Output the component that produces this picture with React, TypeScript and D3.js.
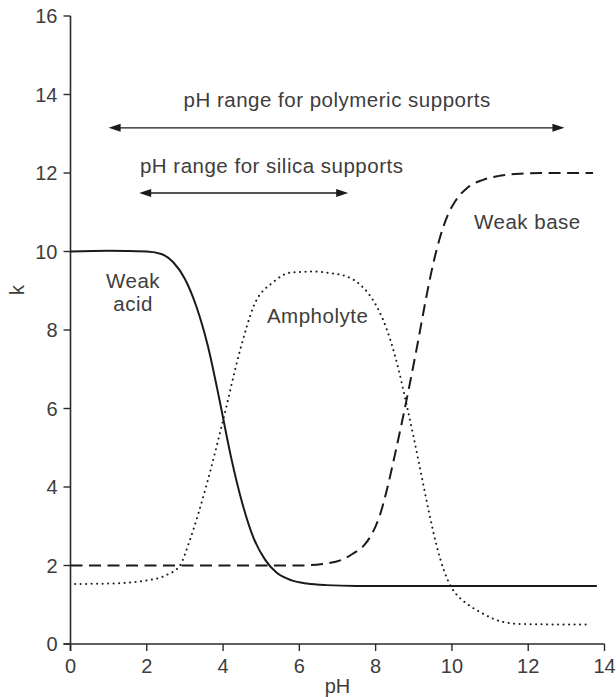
import React from "react";
import * as d3 from "d3";

const W = 616;
const H = 698;

const xTicks = [0, 2, 4, 6, 8, 10, 12, 14];
const yTicks = [0, 2, 4, 6, 8, 10, 12, 14, 16];

// Weak acid (solid)
const acidPH = [0, 1, 2, 2.4, 2.7, 3.0, 3.3, 3.6, 3.9, 4.2, 4.5, 4.8, 5.1, 5.4, 5.8, 6.2, 6.7, 7.5, 9, 11, 13.8];
const acidK = [10, 10.02, 10, 9.93, 9.72, 9.3, 8.6, 7.6, 6.25, 4.8, 3.6, 2.7, 2.15, 1.82, 1.62, 1.54, 1.5, 1.48, 1.48, 1.48, 1.48];

// Weak base (dashed)
const basePH = [0, 2, 4, 6, 6.6, 7.1, 7.4, 7.7, 7.9, 8.1, 8.3, 8.5, 8.7, 8.9, 9.1, 9.3, 9.5, 9.7, 9.9, 10.1, 10.4, 10.8, 11.2, 11.8, 12.5, 13.7];
const baseK = [2, 2, 2, 2.0, 2.04, 2.14, 2.3, 2.52, 2.8, 3.25, 3.95, 4.8, 5.7, 6.65, 7.65, 8.7, 9.65, 10.4, 10.95, 11.3, 11.62, 11.82, 11.92, 11.98, 12.0, 12.0];

// Ampholyte (dotted)
const ampPH = [0.12, 1, 2, 2.5, 2.87, 3.13, 3.58, 4.0, 4.45, 4.8, 5.33, 5.76, 6.37, 6.8, 7.25, 7.6, 8.0, 8.2, 8.4, 8.6, 8.8, 9.0, 9.2, 9.4, 9.6, 9.8, 10.0, 10.2, 10.4, 10.8, 11.3, 11.8, 12.5, 13.6];
const ampK = [1.53, 1.54, 1.62, 1.75, 2.0, 2.65, 4.1, 5.7, 7.5, 8.6, 9.23, 9.46, 9.49, 9.45, 9.36, 9.15, 8.65, 8.25, 7.7, 7.0, 6.15, 5.25, 4.3, 3.35, 2.5, 1.85, 1.42, 1.18, 1.02, 0.78, 0.57, 0.51, 0.5, 0.5];

// pH range arrows: [from, to, k]
const polymericRange = [1.0, 12.95, 13.15];
const silicaRange = [1.8, 7.28, 11.49];

const TEXT = "#3d3d3d";
const LINE = "#1a1a1a";
const FONT = "'Liberation Sans', Arial, sans-serif";

export default function App() {
  const x = d3.scaleLinear().domain([0, 14]).range([70.5, 604.5]);
  const y = d3.scaleLinear().domain([0, 16]).range([644, 16]);

  const mk = (px: number[], ks: number[]) =>
    d3
      .line<number>()
      .x((_, i) => x(px[i]))
      .y((_, i) => y(ks[i]))
      .curve(d3.curveMonotoneX)(px.map((_, i) => i)) || "";

  const arrow = (r: number[], key: string) => {
    const x1 = x(r[0]);
    const x2 = x(r[1]);
    const yy = y(r[2]);
    const L = 12;
    const hw = 4;
    return (
      <g key={key}>
        <line x1={x1 + L - 2} x2={x2 - L + 2} y1={yy} y2={yy} stroke={LINE} strokeWidth={1.4} />
        <path d={`M${x1},${yy}L${x1 + L},${yy - hw}L${x1 + L},${yy + hw}Z`} fill={LINE} />
        <path d={`M${x2},${yy}L${x2 - L},${yy - hw}L${x2 - L},${yy + hw}Z`} fill={LINE} />
      </g>
    );
  };

  const ann = { fontSize: 20.5, fill: TEXT, letterSpacing: 0.5 };

  return (
    <svg width={W} height={H} style={{ position: "absolute", left: 0, top: 0 }} fontFamily={FONT}>
      <rect width={W} height={H} fill="#fff" />
      {/* axes */}
      <line x1={x(0)} x2={x(0)} y1={y(16)} y2={y(0) + 7} stroke="#2a2a2a" strokeWidth={1.6} />
      <line x1={x(0) - 7} x2={x(14)} y1={y(0)} y2={y(0)} stroke="#2a2a2a" strokeWidth={1.6} />
      {yTicks.map((t) => (
        <g key={"y" + t}>
          <line x1={x(0) - 7} x2={x(0)} y1={y(t)} y2={y(t)} stroke="#2a2a2a" strokeWidth={1.4} />
          <text x={x(0) - 13} y={y(t)} dy="0.36em" textAnchor="end" fontSize={20} fill={TEXT}>
            {t}
          </text>
        </g>
      ))}
      {xTicks.map((t) => (
        <g key={"x" + t}>
          <line x1={x(t)} x2={x(t)} y1={y(0)} y2={y(0) + 7} stroke="#2a2a2a" strokeWidth={1.4} />
          <text x={x(t)} y={673} textAnchor="middle" fontSize={20} fill={TEXT}>
            {t}
          </text>
        </g>
      ))}
      <text x={(x(0) + x(14)) / 2} y={693} textAnchor="middle" fontSize={20} fill={TEXT}>
        pH
      </text>
      <text transform={`translate(24,290) rotate(-90)`} textAnchor="middle" fontSize={20} fill={TEXT}>
        k
      </text>

      {/* curves */}
      <path d={mk(ampPH, ampK)} fill="none" stroke={LINE} strokeWidth={2} strokeDasharray="0.1 5.4" strokeLinecap="round" />
      <path d={mk(basePH, baseK)} fill="none" stroke={LINE} strokeWidth={2} strokeDasharray="12 6.5" />
      <path d={mk(acidPH, acidK)} fill="none" stroke={LINE} strokeWidth={2} />

      {/* arrows */}
      {arrow(polymericRange, "poly")}
      {arrow(silicaRange, "sil")}

      {/* annotations */}
      <text x={x(6.99)} y={y(13.68)} textAnchor="middle" {...ann}>
        pH range for polymeric supports
      </text>
      <text x={x(1.82)} y={y(12.0)} {...ann}>
        pH range for silica supports
      </text>
      <text x={x(1.64)} y={y(9.07)} textAnchor="middle" {...ann}>
        Weak
      </text>
      <text x={x(1.64)} y={y(8.48)} textAnchor="middle" {...ann}>
        acid
      </text>
      <text x={x(5.15)} y={y(8.18)} {...ann}>
        Ampholyte
      </text>
      <text x={x(10.58)} y={y(10.57)} {...ann}>
        Weak base
      </text>
    </svg>
  );
}
